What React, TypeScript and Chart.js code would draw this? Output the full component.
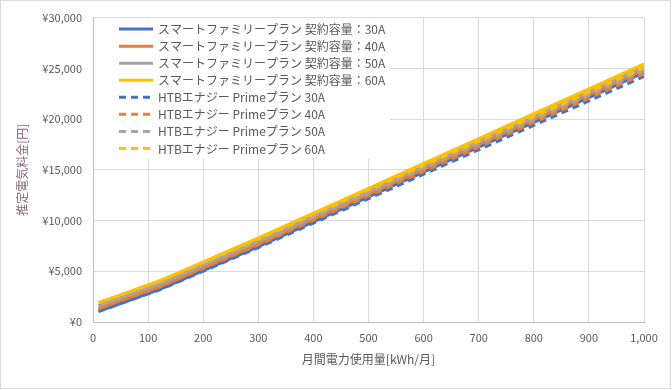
import { useEffect, useRef } from 'react';
import { Chart, registerables } from 'chart.js';

Chart.register(...registerables);

// 月間電力使用量 [kWh/月]
const usage = [10, 50, 100, 120, 150, 200, 250, 300, 400, 500, 600, 700, 800, 900, 1000];

// スマートファミリープラン (円)
const smart30 = [1042, 1822, 2797, 3187, 3892, 5067, 6242, 7422, 9872, 12322, 14772, 17222, 19672, 22122, 24572];
const smart40 = [1328, 2108, 3083, 3473, 4178, 5353, 6528, 7708, 10158, 12608, 15058, 17508, 19958, 22408, 24858];
const smart50 = [1614, 2394, 3369, 3759, 4464, 5639, 6814, 7994, 10444, 12894, 15344, 17794, 20244, 22694, 25144];
const smart60 = [1900, 2680, 3655, 4045, 4750, 5925, 7100, 8280, 10730, 13180, 15630, 18080, 20530, 22980, 25430];

// HTBエナジー Primeプラン (円)
const htb30 = [1037, 1807, 2767, 3152, 3847, 5007, 6167, 7332, 9742, 12152, 14562, 16972, 19382, 21792, 24202];
const htb40 = [1323, 2093, 3053, 3438, 4133, 5293, 6453, 7618, 10028, 12438, 14848, 17258, 19668, 22078, 24488];
const htb50 = [1609, 2379, 3339, 3724, 4419, 5579, 6739, 7904, 10314, 12724, 15134, 17544, 19954, 22364, 24774];
const htb60 = [1895, 2665, 3625, 4010, 4705, 5865, 7025, 8190, 10600, 13010, 15420, 17830, 20240, 22650, 25060];

const seriesLabels = [
  'スマートファミリープラン 契約容量：30A',
  'スマートファミリープラン 契約容量：40A',
  'スマートファミリープラン 契約容量：50A',
  'スマートファミリープラン 契約容量：60A',
  'HTBエナジー Primeプラン 30A',
  'HTBエナジー Primeプラン 40A',
  'HTBエナジー Primeプラン 50A',
  'HTBエナジー Primeプラン 60A',
];
const seriesValues = [smart30, smart40, smart50, smart60, htb30, htb40, htb50, htb60];
const colors = ['#4472C4', '#ED7D31', '#A5A5A5', '#FFC000'];

const yTicks = [0, 5000, 10000, 15000, 20000, 25000, 30000];

const FONT = "'Noto Sans CJK JP', 'Noto Sans', sans-serif";
const DASH = [7, 5];

const legendPlugin = {
  id: 'insideLegend',
  beforeDatasetsDraw(chart: any) {
    const { ctx, chartArea } = chart;
    const left = chartArea.left + 1;
    const top = chartArea.top + 1;
    ctx.save();
    ctx.fillStyle = '#ffffff';
    ctx.fillRect(left, top, 296, 140);
    ctx.font = `12px ${FONT}`;
    ctx.textBaseline = 'middle';
    ctx.textAlign = 'left';
    chart.data.datasets.forEach((ds: any, i: number) => {
      const y = chartArea.top + 11.5 + i * 17.05;
      ctx.beginPath();
      ctx.strokeStyle = ds.borderColor;
      ctx.lineWidth = 3;
      ctx.lineCap = 'butt';
      ctx.setLineDash(ds.borderDash || []);
      ctx.moveTo(chartArea.left + 26, y);
      ctx.lineTo(chartArea.left + 60, y);
      ctx.stroke();
      ctx.setLineDash([]);
      ctx.fillStyle = '#595959';
      ctx.fillText(ds.label, chartArea.left + 65, y + 0.5);
    });
    ctx.restore();
  },
};

const borderPlugin = {
  id: 'outerBorder',
  afterDraw(chart: any) {
    const { ctx, width, height } = chart;
    ctx.save();
    ctx.strokeStyle = '#d9d9d9';
    ctx.lineWidth = 1;
    ctx.strokeRect(0.5, 0.5, width - 2, height - 2);
    ctx.restore();
  },
};

export default function App() {
  const canvasRef = useRef<HTMLCanvasElement | null>(null);

  useEffect(() => {
    document.body.style.margin = '0';
    const canvas = canvasRef.current;
    if (!canvas) return;
    const datasets = seriesValues.map((vals, i) => ({
      label: seriesLabels[i],
      data: usage.map((u, k) => ({ x: u, y: vals[k] })),
      borderColor: colors[i % 4],
      backgroundColor: colors[i % 4],
      borderWidth: 3,
      borderDash: i >= 4 ? DASH : [],
      borderCapStyle: 'butt' as const,
      pointRadius: 0,
      tension: 0,
      fill: false,
      order: 8 - i,
    }));
    const chart = new Chart(canvas, {
      type: 'line',
      data: { datasets },
      options: {
        animation: false,
        responsive: false,
        devicePixelRatio: 1,
        layout: { padding: { left: 0, right: 28, top: 16, bottom: 0 } },
        plugins: {
          legend: { display: false },
          tooltip: { enabled: false },
        },
        scales: {
          x: {
            type: 'linear',
            min: 0,
            max: 1000,
            afterFit: (s: any) => { s.height = 68; },
            ticks: {
              stepSize: 100,
              padding: 9,
              color: '#595959',
              font: { family: FONT, size: 11 },
              maxRotation: 0,
              callback: (v: any) => Number(v).toLocaleString('en-US'),
            },
            grid: { color: '#d9d9d9', lineWidth: 1, drawTicks: false },
            border: { color: '#bfbfbf' },
            title: {
              display: true,
              text: '月間電力使用量[kWh/月]',
              color: '#595959',
              font: { family: FONT, size: 12 },
              padding: { top: 0, bottom: 23 },
            },
          },
          y: {
            type: 'linear',
            min: 0,
            max: 30000,
            afterFit: (s: any) => { s.width = 93; },
            afterBuildTicks: (s: any) => { s.ticks = yTicks.map((v) => ({ value: v })); },
            ticks: {
              padding: 11,
              color: '#595959',
              font: { family: FONT, size: 11 },
              callback: (v: any) => '¥' + Number(v).toLocaleString('en-US'),
            },
            grid: { color: '#d9d9d9', lineWidth: 1, drawTicks: false },
            border: { color: '#bfbfbf' },
            title: {
              display: true,
              text: '推定電気料金[円]',
              color: '#86677a',
              font: { family: FONT, size: 12 },
              padding: { top: 15, bottom: 0 },
            },
          },
        },
      },
      plugins: [legendPlugin, borderPlugin],
    });
    return () => chart.destroy();
  }, []);

  return (
    <div style={{ width: 672, height: 390, position: 'relative', background: '#fff' }}>
      <canvas ref={canvasRef} width={672} height={390} style={{ display: 'block' }} />
    </div>
  );
}
